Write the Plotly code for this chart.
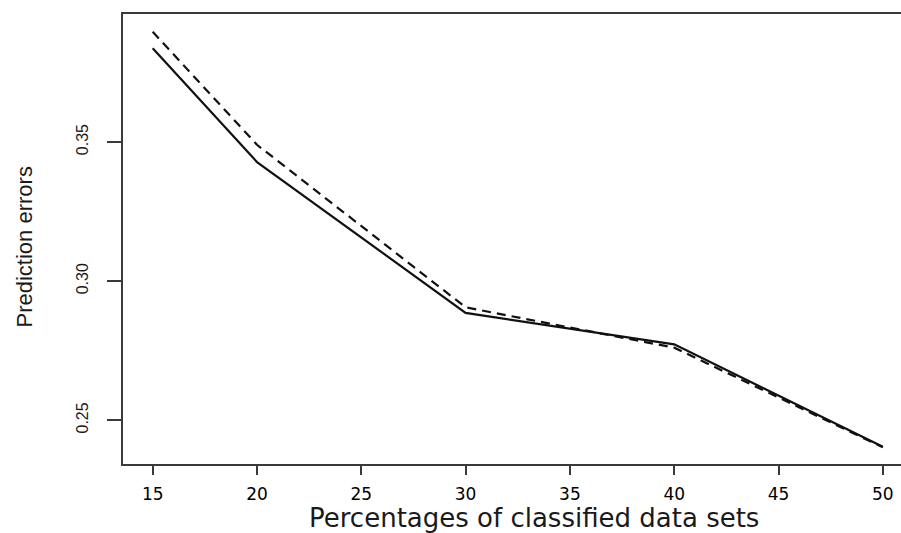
import plotly.graph_objects as go

# Data
pct = [15, 20, 30, 40, 50]
err_solid = [0.3837, 0.3428, 0.2886, 0.2773, 0.2405]
err_dashed = [0.3896, 0.3490, 0.2906, 0.2761, 0.2403]
x_ticks = [15, 20, 25, 30, 35, 40, 45, 50]
y_ticks = [0.25, 0.30, 0.35]
y_tick_text = ["0.25", "0.30", "0.35"]

AX = "#3a3a3a"

fig = go.Figure()
fig.add_trace(go.Scatter(x=pct, y=err_solid, mode="lines",
                         line=dict(color="#111111", width=2.2), showlegend=False))
fig.add_trace(go.Scatter(x=pct, y=err_dashed, mode="lines",
                         line=dict(color="#111111", width=2.2, dash="9px,6px"), showlegend=False))

fig.update_layout(
    width=901, height=533,
    margin=dict(l=123, r=0, t=14, b=69),
    plot_bgcolor="white", paper_bgcolor="white",
    showlegend=False,
    xaxis=dict(
        range=[13.576, 50.872], tickvals=x_ticks,
        showgrid=False, zeroline=False,
        showline=True, linecolor=AX, linewidth=2, mirror=True,
        ticks="outside", ticklen=9, tickwidth=1.5, tickcolor=AX,
        ticklabelstandoff=5,
        tickfont=dict(family="DejaVu Sans", size=17, color="#000000"),
    ),
    yaxis=dict(
        range=[0.2343, 0.3960], tickvals=y_ticks, ticktext=y_tick_text,
        showgrid=False, zeroline=False,
        showline=True, linecolor=AX, linewidth=2, mirror=False,
        ticks="outside", ticklen=14, tickwidth=1.5, tickcolor=AX,
        tickangle=-90, ticklabelstandoff=13,
        tickfont=dict(family="Liberation Sans, Arial", size=16, color="#1a1a1a"),
    ),
    annotations=[
        dict(text="Percentages of classified data sets", xref="paper", yref="paper",
             x=(533.5 - 123) / 778, y=-(518 - 464) / 450, xanchor="center", yanchor="middle",
             showarrow=False, font=dict(family="DejaVu Sans", size=26, color="#1a1a1a")),
        dict(text="Prediction errors", xref="paper", yref="paper",
             x=-(123 - 23.5) / 778, y=1 - (247 - 14) / 450, xanchor="center", yanchor="middle",
             textangle=-90, showarrow=False,
             font=dict(family="Liberation Sans, Arial", size=22, color="#1a1a1a")),
    ],
)

fig.write_html("out.html", config={"displayModeBar": False},
               post_script="document.body.style.margin='0px';document.body.style.overflow='hidden';")
